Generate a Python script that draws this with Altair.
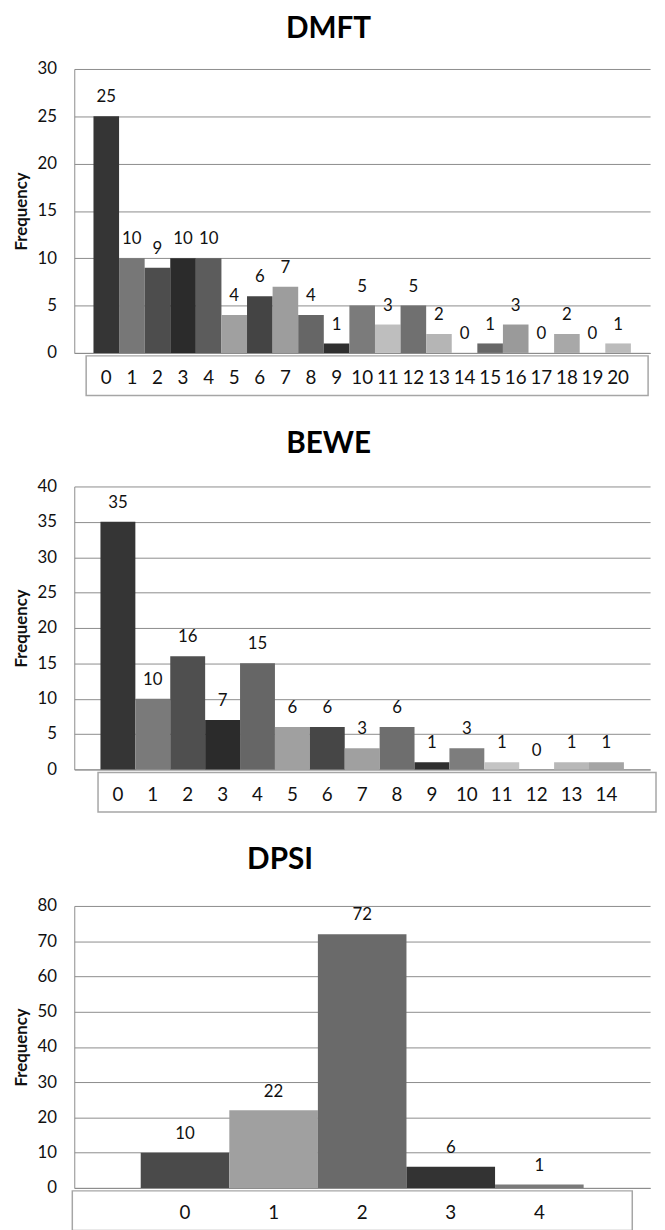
import altair as alt
import pandas as pd

FONT = "Lato"
GRID = "#8c8c8c"
BOX = "#a6a6a6"
INK = "#111111"

# ---------------- data ----------------
dmft_cats = ["0", "1", "2", "3", "4", "5", "6", "7", "8", "9", "10",
             "11", "12", "13", "14", "15", "16", "17", "18", "19", "20"]
dmft_vals = [25, 10, 9, 10, 10, 4, 6, 7, 4, 1, 5, 3, 5, 2, 0, 1, 3, 0, 2, 0, 1]
dmft_ticks = [0, 5, 10, 15, 20, 25, 30]

bewe_cats = ["0", "1", "2", "3", "4", "5", "6", "7", "8", "9", "10",
             "11", "12", "13", "14"]
bewe_vals = [35, 10, 16, 7, 15, 6, 6, 3, 6, 1, 3, 1, 0, 1, 1]
bewe_ticks = [0, 5, 10, 15, 20, 25, 30, 35, 40]

dpsi_cats = ["0", "1", "2", "3", "4"]
dpsi_vals = [10, 22, 72, 6, 1]
dpsi_ticks = [0, 10, 20, 30, 40, 50, 60, 70, 80]

# ---------------- styles (bar shades) ----------------
dmft_colors = ["#353535", "#777777", "#4d4d4d", "#2b2b2b", "#5c5c5c", "#a0a0a0",
               "#444444", "#9d9d9d", "#666666", "#2f2f2f", "#7b7b7b", "#bebebe",
               "#707070", "#b5b5b5", "#888888", "#676767", "#9a9a9a", "#888888",
               "#a8a8a8", "#888888", "#bbbbbb"]
bewe_colors = ["#353535", "#7a7a7a", "#4f4f4f", "#2b2b2b", "#666666", "#a0a0a0",
               "#464646", "#a0a0a0", "#6e6e6e", "#2f2f2f", "#7d7d7d", "#c4c4c4",
               "#888888", "#b8b8b8", "#a5a5a5"]
dpsi_colors = ["#4a4a4a", "#a0a0a0", "#6a6a6a", "#333333", "#7a7a7a"]

W = 582


def panel(title, cats, vals, ticks, colors, H, title_dx, title_offset, bx1, bx2):
    df = pd.DataFrame({"cat": cats, "val": vals})
    ymax = ticks[-1]
    xscale = alt.Scale(paddingInner=0, paddingOuter=0.75)
    yscale = alt.Scale(domain=[0, ymax], nice=False)
    xaxis = alt.Axis(title=None, labelAngle=0, ticks=False, tickSize=0,
                     domain=True, domainColor=GRID, domainWidth=1,
                     labelFont=FONT, labelFontSize=19, labelColor=INK,
                     labelBaseline="middle", labelPadding=25, grid=False)
    yaxis = alt.Axis(values=ticks, title="Frequency", grid=True, gridColor=GRID,
                     gridWidth=1, domain=True, domainColor=GRID, ticks=False,
                     tickSize=0, labelFont=FONT, labelFontSize=17, labelColor=INK,
                     labelPadding=18, labelOverlap=False,
                     titleFont=FONT, titleFontSize=17,
                     titleFontWeight="bold", titleColor=INK, titleX=-53,
                     titleY=H / 2, titleAngle=270, titleAlign="center",
                     titleBaseline="middle")
    xenc = alt.X("cat:N", sort=cats, scale=xscale, axis=xaxis)
    yenc = alt.Y("val:Q", scale=yscale, axis=yaxis)
    base = alt.Chart(df)
    bars = base.mark_bar().encode(
        x=xenc, y=yenc,
        color=alt.Color("cat:N", scale=alt.Scale(domain=cats, range=colors),
                        legend=None),
    )
    labels = base.mark_text(dy=-19, font=FONT, fontSize=17, color=INK,
                            baseline="middle").encode(
        x=xenc, y=yenc, text="val:Q")
    box = alt.Chart(alt.Data(values=[{"k": 1}])).mark_rect(
        fillOpacity=0, stroke=BOX, strokeWidth=1.5).encode(
        x=alt.value(bx1), x2=alt.value(bx2),
        y=alt.value(H + 3), y2=alt.value(H + 43))
    return alt.layer(bars, labels, box).properties(
        width=W, height=H,
        title=alt.TitleParams(text=title, font=FONT, fontSize=30, fontWeight="bold",
                              color="#000000", anchor="middle", frame="group",
                              dx=title_dx, offset=title_offset),
    )


c1 = panel("DMFT", dmft_cats, dmft_vals, dmft_ticks, dmft_colors, 287, -34, 16, 12, 580)
c2 = panel("BEWE", bewe_cats, bewe_vals, bewe_ticks, bewe_colors, 286, -34, 19, 24, 588)
c3 = panel("DPSI", dpsi_cats, dpsi_vals, dpsi_ticks, dpsi_colors, 285, -83, 22, -2, 564)

chart = alt.vconcat(c1, c2, c3, spacing=33).resolve_scale(
    color="independent", x="independent", y="independent"
).configure_view(stroke=None).properties(
    padding={"left": 5, "top": 0, "right": 0, "bottom": 0},
    background="white",
)

chart.save("out.html", embed_options={"renderer": "svg", "actions": False})
